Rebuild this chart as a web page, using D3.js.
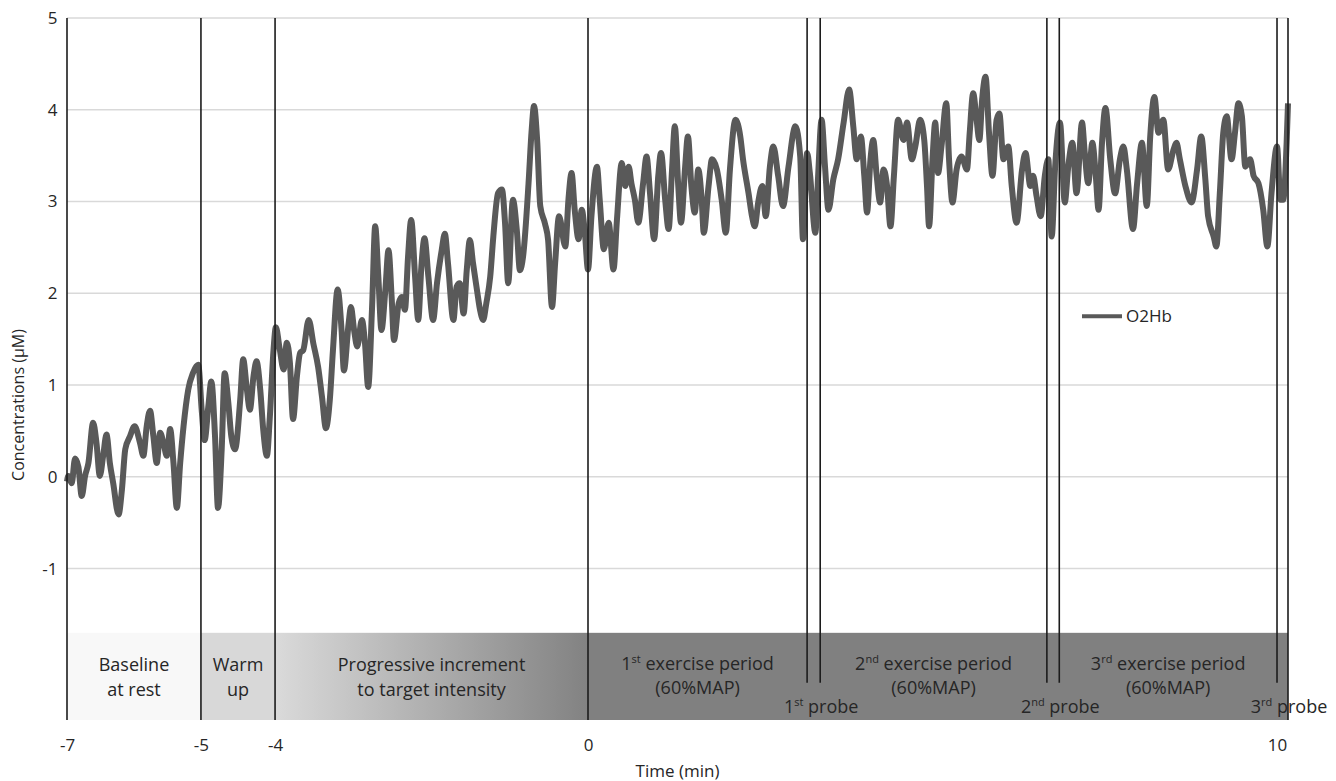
<!DOCTYPE html>
<html>
<head>
<meta charset="utf-8">
<script src="https://cdn.jsdelivr.net/npm/d3@7"></script>
<style>
  body { margin: 0; background: #fff; }
  text { font-family: "Open Sans", sans-serif; fill: #262626; }
</style>
</head>
<body>
<svg id="chart" width="1336" height="781"></svg>
<script>
// O2Hb trace, [time (min), concentration (µM)], split by protocol phase
const restData = [
  [-7.0,-0.05],[-6.98,0.01],[-6.93,-0.07],[-6.88,0.2],[-6.83,0.11],[-6.78,-0.21],[-6.73,0.01],[-6.68,0.15],
  [-6.61,0.59],[-6.56,0.37],[-6.51,0.01],[-6.46,0.23],[-6.41,0.46],[-6.36,0.15],[-6.31,-0.07],[-6.23,-0.41],
  [-6.18,-0.14],[-6.13,0.3],[-6.06,0.44],[-5.99,0.55],[-5.91,0.37],[-5.86,0.23],[-5.81,0.55],[-5.76,0.72],
  [-5.71,0.44],[-5.66,0.15],[-5.61,0.48],[-5.56,0.37],[-5.51,0.23],[-5.46,0.52],[-5.41,0.15],[-5.36,-0.34],
  [-5.31,0.15],[-5.26,0.55],[-5.19,0.95],[-5.12,1.13],[-5.04,1.22]
];
const warmUpData = [
  [-4.99,0.73],[-4.95,0.4],[-4.9,0.77],[-4.86,1.04],[-4.81,0.44],[-4.77,-0.34],[-4.72,0.3],[-4.68,1.13],
  [-4.63,0.8],[-4.59,0.44],[-4.54,0.3],[-4.47,0.84],[-4.43,1.28],[-4.38,0.95],[-4.34,0.73],[-4.29,1.1],
  [-4.25,1.26],[-4.2,0.95],[-4.16,0.52],[-4.11,0.23],[-4.07,0.66],[-4.02,1.39]
];
const rampData = [
  [-3.99,1.63],[-3.94,1.39],[-3.89,1.17],[-3.85,1.46],[-3.81,1.24],[-3.77,0.63],[-3.72,1.1],[-3.68,1.35],
  [-3.64,1.38],[-3.57,1.71],[-3.51,1.45],[-3.45,1.2],[-3.4,0.87],[-3.35,0.53],[-3.3,0.84],[-3.26,1.38],
  [-3.2,2.04],[-3.15,1.6],[-3.12,1.16],[-3.06,1.67],[-3.03,1.85],[-2.99,1.6],[-2.95,1.42],[-2.89,1.71],
  [-2.85,1.45],[-2.81,0.98],[-2.76,1.85],[-2.72,2.73],[-2.68,2.18],[-2.64,1.6],[-2.59,2.04],[-2.55,2.47],
  [-2.51,1.96],[-2.48,1.49],[-2.42,1.89],[-2.38,1.96],[-2.34,1.82],[-2.3,2.4],[-2.26,2.8],[-2.21,2.18],
  [-2.17,1.71],[-2.13,2.29],[-2.09,2.6],[-2.04,2.18],[-1.98,1.71],[-1.93,2.11],[-1.87,2.47],[-1.83,2.65],
  [-1.79,2.33],[-1.72,1.71],[-1.68,2.07],[-1.64,2.11],[-1.59,1.78],[-1.55,2.25],[-1.51,2.58],[-1.47,2.33],
  [-1.42,2.04],[-1.38,1.82],[-1.34,1.71],[-1.3,1.89],[-1.25,2.18],[-1.21,2.62],[-1.15,3.09],[-1.1,3.13],
  [-1.06,2.76],[-1.02,2.11],[-0.96,3.02],[-0.91,2.69],[-0.87,2.25],[-0.83,2.4],[-0.76,3.2],[-0.72,3.78],
  [-0.69,4.04],[-0.65,3.67],[-0.61,2.95],[-0.55,2.76],[-0.51,2.58],[-0.46,1.85],[-0.42,2.33],[-0.37,2.84],
  [-0.29,2.51],[-0.25,3.02],[-0.21,3.31],[-0.17,2.91],[-0.12,2.59],[-0.08,2.91],[-0.04,2.66]
];
const exercise1Data = [
  [0.0,2.26],[0.05,2.84],[0.13,3.38],[0.17,3.02],[0.23,2.48],[0.3,2.77],[0.37,2.26],[0.42,2.8],
  [0.49,3.42],[0.54,3.17],[0.59,3.38],[0.63,3.2],[0.68,3.02],[0.73,2.77],[0.8,3.2],[0.85,3.49],
  [0.9,3.09],[0.96,2.59],[1.02,3.28],[1.06,3.53],[1.12,3.02],[1.17,2.7],[1.22,3.35],[1.26,3.82],
  [1.31,3.17],[1.35,2.77],[1.41,3.38],[1.45,3.71],[1.5,3.17],[1.55,2.88],[1.6,3.35],[1.65,3.02],
  [1.68,2.66],[1.75,3.17],[1.8,3.46],[1.87,3.35],[1.94,3.02],[2.0,2.66],[2.06,3.35],[2.14,3.89],
  [2.21,3.71],[2.25,3.46],[2.33,3.09],[2.38,2.84],[2.42,2.73],[2.47,2.99],[2.53,3.17],[2.58,2.84],
  [2.64,3.38],[2.69,3.6],[2.76,3.28],[2.83,2.95],[2.91,3.38],[3.01,3.82],[3.08,3.49],[3.12,2.59],
  [3.18,3.53],[3.22,3.31],[3.3,2.66],[3.34,3.28]
];
const exercise2Data = [
  [3.39,3.89],[3.44,3.38],[3.49,2.91],[3.56,3.24],[3.63,3.46],[3.71,3.86],[3.79,4.22],[3.85,3.82],
  [3.9,3.46],[3.96,3.71],[4.01,3.28],[4.05,2.88],[4.1,3.46],[4.14,3.67],[4.19,3.28],[4.24,2.99],
  [4.29,3.35],[4.34,3.17],[4.39,2.73],[4.44,3.28],[4.5,3.89],[4.58,3.67],[4.63,3.86],[4.7,3.46],
  [4.75,3.6],[4.82,3.89],[4.88,3.67],[4.92,3.17],[4.95,2.73],[5.0,3.46],[5.04,3.86],[5.08,3.31],
  [5.13,3.6],[5.2,4.07],[5.24,3.46],[5.29,2.99],[5.35,3.35],[5.42,3.49],[5.5,3.35],[5.54,3.75],
  [5.59,4.18],[5.64,3.89],[5.68,3.67],[5.72,4.11],[5.77,4.36],[5.82,3.75],[5.87,3.28],[5.93,3.89],
  [5.97,3.96],[6.03,3.46],[6.1,3.6],[6.15,3.17],[6.22,2.77],[6.3,3.35],[6.35,3.53],[6.42,3.17],
  [6.46,3.28],[6.51,3.06],[6.57,2.84],[6.63,3.28],[6.68,3.46],[6.73,2.62],[6.78,3.38]
];
const exercise3Data = [
  [6.85,3.86],[6.92,2.99],[6.97,3.38],[7.03,3.64],[7.09,3.09],[7.17,3.86],[7.21,3.53],[7.26,3.2],
  [7.32,3.64],[7.37,3.28],[7.41,2.91],[7.46,3.64],[7.51,4.02],[7.58,3.46],[7.65,3.09],[7.72,3.46],
  [7.77,3.6],[7.82,3.35],[7.91,2.7],[7.97,3.2],[8.04,3.64],[8.11,2.95],[8.16,3.71],[8.22,4.14],
  [8.28,3.75],[8.35,3.89],[8.42,3.35],[8.5,3.57],[8.54,3.64],[8.59,3.46],[8.67,3.17],[8.76,2.99],
  [8.84,3.35],[8.9,3.71],[8.96,3.24],[9.0,2.84],[9.08,2.62],[9.12,2.51],[9.17,3.09],[9.22,3.75],
  [9.27,3.93],[9.34,3.46],[9.39,3.75],[9.44,4.07],[9.49,3.93],[9.54,3.38],[9.61,3.46],[9.66,3.28],
  [9.73,3.2],[9.8,2.91],[9.86,2.51],[9.92,3.09],[10.0,3.6],[10.05,3.02],[10.09,3.02],[10.14,3.64],
  [10.16,4.07]
];

const xTicks = [-7, -5, -4, 0, 10];
const yTicks = [-1, 0, 1, 2, 3, 4, 5];

// protocol phases (min)
const phaseBounds = [[-7, -5], [-5, -4], [-4, 0], [0, 10.16]];
const phaseFills = ["#f8f8f8", "#d8d8d8", "url(#rampGrad)", "#808080"];
const phaseLabels = [["Baseline", "at rest"], ["Warm", "up"], ["Progressive increment", "to target intensity"]];
const exercisePeriods = [[0, 3.18], [3.37, 6.66], [6.84, 10]];
const probes = [[3.18, 3.37], [6.66, 6.84], [10, 10.16]];
const ordinals = [["1", "st"], ["2", "nd"], ["3", "rd"]];
const fullLines = [-7, -5, -4, 0];

const svg = d3.select("#chart");
const margin = { top: 18, left: 67 };
const width = 1221, height = 702;
const g = svg.append("g").attr("transform", `translate(${margin.left},${margin.top})`);

// x axis is not evenly spaced in the original figure, so use a piecewise scale
const xStops = [0, 0.1097, 0.1704, 0.4267, 0.991, 1];
const x = d3.scaleLinear()
  .domain([-7, -5, -4, 0, 10, 10.16])
  .range(xStops.map(f => f * width));
const y = d3.scaleLinear().domain([-2.65, 5]).range([height, 0]);
const bandTop = y(-1.7);

const defs = svg.append("defs");
const grad = defs.append("linearGradient").attr("id", "rampGrad");
grad.append("stop").attr("offset", "0%").attr("stop-color", "#dadada");
grad.append("stop").attr("offset", "100%").attr("stop-color", "#828282");

// gridlines
g.selectAll(".grid").data(yTicks).enter().append("line")
  .attr("x1", 0).attr("x2", width)
  .attr("y1", d => y(d)).attr("y2", d => y(d))
  .attr("stroke", "#d9d9d9").attr("stroke-width", 1.5);

// y tick labels (plain hyphen minus like the original)
const yAxis = g.append("g").call(d3.axisLeft(y).tickValues(yTicks).tickFormat(d => String(d)).tickSize(0).tickPadding(9.5));
yAxis.select(".domain").remove();
yAxis.selectAll("text").style("font-size", "17px").attr("fill", "#262626");

// phase band
g.selectAll(".phase").data(phaseBounds).enter().append("rect")
  .attr("x", d => x(d[0])).attr("width", d => x(d[1]) - x(d[0]))
  .attr("y", bandTop).attr("height", height - bandTop)
  .attr("fill", (d, i) => phaseFills[i]);

// O2Hb trace
const trace = restData.concat(warmUpData, rampData, exercise1Data, exercise2Data, exercise3Data);
const line = d3.line().x(d => x(d[0])).y(d => y(d[1])).curve(d3.curveMonotoneX);
g.append("path").datum(trace)
  .attr("d", line)
  .attr("fill", "none")
  .attr("stroke", "#595959")
  .attr("stroke-width", 6)
  .attr("stroke-linejoin", "round");

// phase marker lines
g.selectAll(".mark").data(fullLines).enter().append("line")
  .attr("x1", d => x(d)).attr("x2", d => x(d))
  .attr("y1", 0).attr("y2", height)
  .attr("stroke", "#1c1c1c").attr("stroke-width", 1.6);
probes.forEach(p => {
  p.forEach(t => {
    g.append("line")
      .attr("x1", x(t)).attr("x2", x(t))
      .attr("y1", 0).attr("y2", t === 10.16 ? height : bandTop + 50)
      .attr("stroke", "#1c1c1c").attr("stroke-width", 1.6);
  });
});

// band labels
const labelSize = "18px";
phaseLabels.forEach((lines, i) => {
  const cx = (x(phaseBounds[i][0]) + x(phaseBounds[i][1])) / 2;
  lines.forEach((s, j) => {
    g.append("text").attr("x", cx).attr("y", bandTop + 38 + j * 25)
      .attr("text-anchor", "middle").style("font-size", labelSize).text(s);
  });
});

function ordinalText(sel, o, rest) {
  sel.append("tspan").text(o[0]);
  sel.append("tspan").attr("dy", -7).style("font-size", "11px").text(o[1]);
  sel.append("tspan").attr("dy", 7).text(rest);
}

exercisePeriods.forEach((p, i) => {
  const cx = (x(p[0]) + x(p[1])) / 2;
  const t1 = g.append("text").attr("x", cx).attr("y", bandTop + 37)
    .attr("text-anchor", "middle").style("font-size", labelSize);
  ordinalText(t1, ordinals[i], " exercise period");
  g.append("text").attr("x", cx).attr("y", bandTop + 61)
    .attr("text-anchor", "middle").style("font-size", labelSize).text("(60%MAP)");
});

probes.forEach((p, i) => {
  const t = g.append("text").attr("x", x(p[1]) + 1).attr("y", bandTop + 80)
    .attr("text-anchor", "middle").style("font-size", labelSize);
  ordinalText(t, ordinals[i], " probe");
});

// x tick labels
const xAxis = g.append("g").attr("transform", `translate(0,${height})`)
  .call(d3.axisBottom(x).tickValues(xTicks).tickFormat(d => String(d)).tickSize(0).tickPadding(19));
xAxis.select(".domain").remove();
xAxis.selectAll("text").style("font-size", "17px").attr("fill", "#262626");

// axis titles
svg.append("text")
  .attr("x", margin.left + width / 2).attr("y", 777)
  .attr("text-anchor", "middle").style("font-size", "17px")
  .text("Time (min)");
svg.append("text")
  .attr("transform", `translate(24,405) rotate(-90)`)
  .attr("text-anchor", "middle").style("font-size", "16px")
  .text("Concentrations (µM)");

// legend
const legend = g.append("g").attr("transform", `translate(${width - 206},${y(1.75)})`);
legend.append("line").attr("x1", 0).attr("x2", 40)
  .attr("stroke", "#595959").attr("stroke-width", 4);
legend.append("text").attr("x", 44).attr("dy", "0.35em")
  .style("font-size", "17px").text("O2Hb");
</script>
</body>
</html>
